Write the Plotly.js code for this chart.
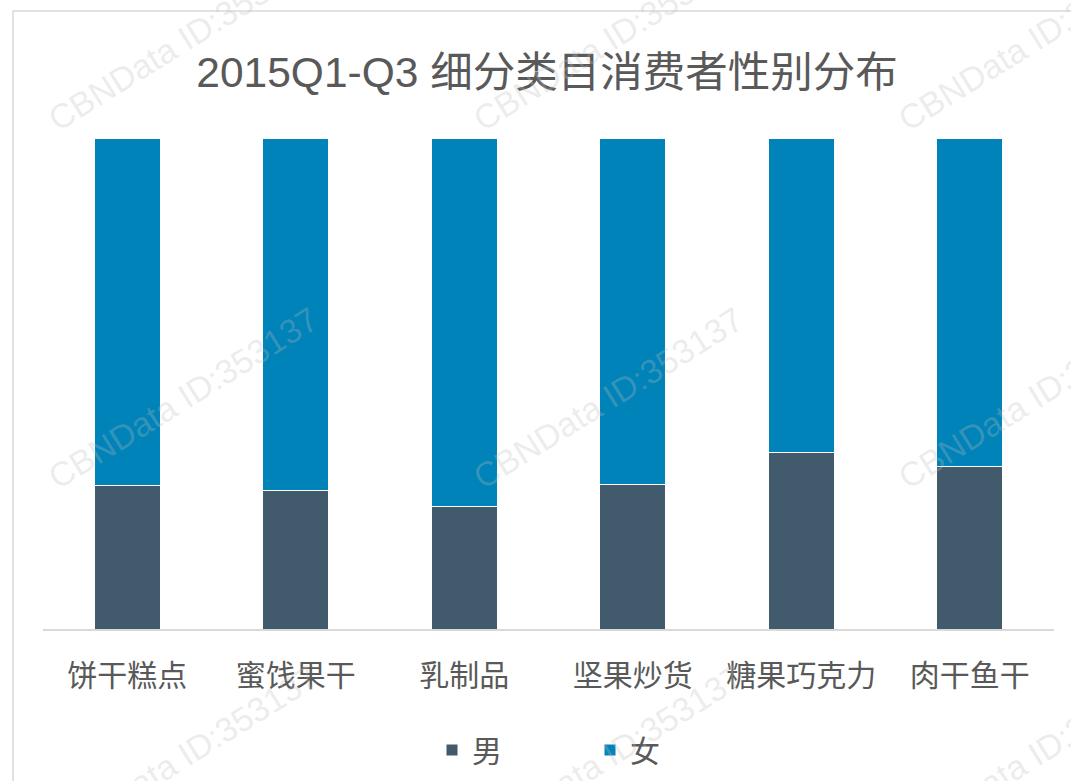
<!DOCTYPE html>
<html>
<head>
<meta charset="utf-8">
<script src="https://cdn.plot.ly/plotly-3.0.1.min.js"></script>
<style>html,body{margin:0;padding:0;background:#fff;}#chart{width:1071px;height:781px;}</style>
</head>
<body>
<div id="chart"></div>
<script>
var categories = ['饼干糕点', '蜜饯果干', '乳制品', '坚果炒货', '糖果巧克力', '肉干鱼干'];
var maleShare = [29.3, 28.2, 25.0, 29.4, 36.0, 33.1];
var femaleShare = [70.7, 71.8, 75.0, 70.6, 64.0, 66.9];
var seriesNames = ['男', '女'];
var titleText = '2015Q1-Q3 细分类目消费者性别分布';
var watermarkText = 'CBNData ID:353137';

var W = 1071, H = 781;
var M = {l: 43, r: 17, t: 138, b: 152};
var PW = W - M.l - M.r, PH = H - M.t - M.b;
function px2x(px) { return (px - M.l) / PW; }
function px2y(py) { return (H - M.b - py) / PH; }

var fontFam = '"Liberation Sans", Arial, "Noto Sans CJK SC", sans-serif';
var cjkFam = '"Noto Sans CJK SC", sans-serif';
var textColor = '#595959';

var traces = [
  {type: 'bar', name: seriesNames[0], x: categories, y: maleShare,
   marker: {color: '#415A6C', line: {color: '#ffffff', width: 1}}},
  {type: 'bar', name: seriesNames[1], x: categories, y: femaleShare,
   marker: {color: '#0083B8', line: {color: '#ffffff', width: 1}}}
];

var wmCenters = [[183, 40], [608, 40], [1033, 40], [183, 398], [608, 398], [1033, 398], [183, 756], [608, 756], [1033, 756]];
var annotations = wmCenters.map(function (c) {
  return {xref: 'paper', yref: 'paper', x: px2x(c[0]), y: px2y(c[1]),
    text: watermarkText, showarrow: false, textangle: -32,
    font: {family: fontFam, size: 34, color: 'rgba(190,190,190,0.28)'},
    xanchor: 'center', yanchor: 'middle'};
});

var layout = {
  width: W, height: H,
  margin: M,
  paper_bgcolor: '#ffffff', plot_bgcolor: 'rgba(0,0,0,0)',
  barmode: 'stack', bargap: 0.61,
  title: {text: titleText, x: 547 / W, xanchor: 'center', y: 1 - 72 / H, yanchor: 'middle',
    font: {family: fontFam, size: 42.5, color: textColor}},
  xaxis: {showgrid: false, zeroline: false, showline: true, linecolor: '#d9d9d9', linewidth: 1.5,
    ticks: '', tickfont: {family: cjkFam, size: 30, color: textColor},
    ticklabelstandoff: 19, automargin: false, fixedrange: true},
  yaxis: {range: [0, 100], visible: false, fixedrange: true},
  showlegend: true,
  legend: {orientation: 'h', xref: 'container', x: 590 / W, xanchor: 'center',
    yref: 'container', y: 1 - 750 / H, yanchor: 'middle',
    font: {family: cjkFam, size: 30, color: textColor},
    traceorder: 'normal', entrywidth: 113, entrywidthmode: 'pixels', itemwidth: 30},
  shapes: [{type: 'rect', xref: 'paper', yref: 'paper', x0: px2x(13), x1: px2x(1100), y0: px2y(820), y1: px2y(11),
    line: {color: '#d9d9d9', width: 1.5}, fillcolor: 'rgba(0,0,0,0)', layer: 'below'}],
  annotations: annotations
};

Plotly.newPlot('chart', traces, layout, {displayModeBar: false, staticPlot: true});
</script>
</body>
</html>
